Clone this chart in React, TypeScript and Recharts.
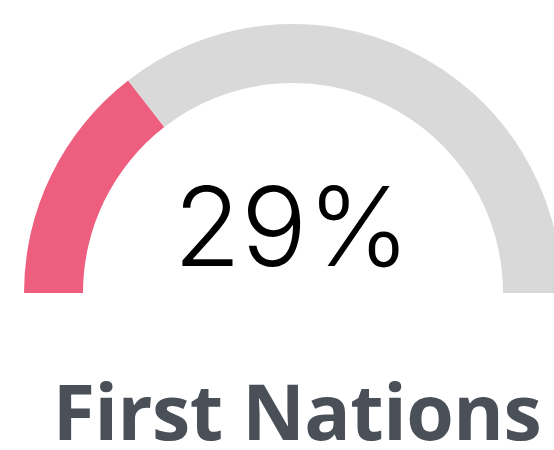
import React from 'react';
import { PieChart, Pie, Cell, Label } from 'recharts';

const segments = ['First Nations', 'Rest'];
const values = [29, 71];
const colors = ['#EE5E7E', '#D9D9D9'];
const centerLabel = '29%';
const title = 'First Nations';

const data = segments.map((name, i) => ({ name, value: values[i] }));

export default function App() {
  return (
    <div style={{ position: 'absolute', left: 0, top: 0, background: '#fff' }}>
      <PieChart width={554} height={450} margin={{ top: 0, right: 0, bottom: 0, left: 0 }}>
        <Pie
          data={data}
          dataKey="value"
          cx={293}
          cy={293}
          startAngle={180}
          endAngle={0}
          innerRadius={210}
          outerRadius={269}
          stroke="none"
          isAnimationActive={false}
        >
          {data.map((d, i) => (
            <Cell key={d.name} fill={colors[i]} />
          ))}
          <Label
            content={(props: any) => {
              const vb = props.viewBox || {};
              return (
                <g>
                  <text
                    x={vb.cx - 1}
                    y={vb.cy - 27}
                    textAnchor="middle"
                    fontFamily="Inter"
                    fontWeight={300}
                    fontSize={110}
                    fill="#000"
                  >
                    {centerLabel}
                  </text>
                  <text
                    x={vb.cx + 4}
                    y={440}
                    textAnchor="middle"
                    fontFamily="Open Sans"
                    fontWeight={700}
                    fontSize={77}
                    letterSpacing={-0.5}
                    fill="#495058"
                  >
                    {title}
                  </text>
                </g>
              );
            }}
          />
        </Pie>
      </PieChart>
    </div>
  );
}
